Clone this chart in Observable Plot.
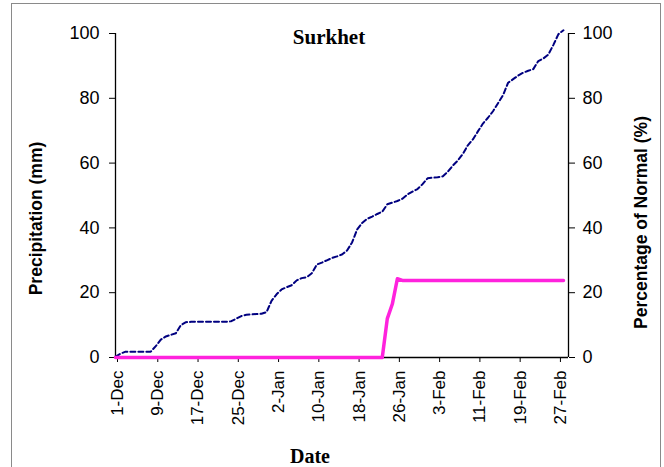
<!DOCTYPE html>
<html><head><meta charset="utf-8">
<script src="https://cdn.jsdelivr.net/npm/d3@7"></script>
<script src="https://cdn.jsdelivr.net/npm/@observablehq/plot@0.6"></script>
<style>
html,body{margin:0;padding:0;background:#fff;}
#wrap{position:relative;width:664px;height:467px;overflow:hidden;background:#fff;}
#border{position:absolute;left:11px;top:3px;width:650px;height:480px;border:1px solid #8a8a8a;box-sizing:border-box;}
</style></head><body><div id="wrap"><div id="border"></div></div>
<script>
const startDate = "2008-12-01";
const endDate = "2009-03-01";
// daily cumulative normal precipitation (mm), 1-Dec .. 28-Feb
const normalCum = [
  0.3, 1.2, 1.8, 1.8, 1.8, 1.8, 1.8, 1.8, 3.5, 5.5,
  6.5, 7.0, 7.5, 10.0, 10.9, 11.0, 11.0, 11.0, 11.0, 11.0,
  11.0, 11.0, 11.0, 11.2, 12.0, 12.8, 13.2, 13.3, 13.4, 13.5,
  14.0, 17.5, 19.5, 21.0, 21.7, 22.3, 23.8, 24.5, 24.8, 26.0,
  28.7, 29.3, 30.0, 30.7, 31.2, 31.8, 33.0, 35.5, 39.5, 41.5,
  42.8, 43.5, 44.3, 45.0, 47.3, 47.8, 48.3, 49.0, 50.3, 51.2,
  52.0, 53.5, 55.3, 55.5, 55.6, 55.9, 57.3, 59.2, 60.8, 62.8,
  65.5, 67.3, 69.8, 72.2, 74.0, 76.0, 78.5, 81.0, 84.8, 85.9,
  87.0, 87.9, 88.5, 89.0, 91.5, 92.3, 93.5, 96.5, 99.8, 101.0
];
// daily percentage of normal (%), 1-Dec .. 28-Feb
const pctNormal = [
  0,0,0,0,0,0,0,0,0,0, 0,0,0,0,0,0,0,0,0,0,
  0,0,0,0,0,0,0,0,0,0, 0,0,0,0,0,0,0,0,0,0,
  0,0,0,0,0,0,0,0,0,0, 0,0,0,0, 12.0, 16.5, 24.3, 23.8, 23.8, 23.8,
  23.8,23.8,23.8,23.8,23.8,23.8,23.8,23.8,23.8,23.8,
  23.8,23.8,23.8,23.8,23.8,23.8,23.8,23.8,23.8,23.8,
  23.8,23.8,23.8,23.8,23.8,23.8,23.8,23.8,23.8,23.8
];
const xTicks = ["2008-12-01","2008-12-09","2008-12-17","2008-12-25","2009-01-02","2009-01-10",
  "2009-01-18","2009-01-26","2009-02-03","2009-02-11","2009-02-19","2009-02-27"];
const yTicks = [0, 20, 40, 60, 80, 100];
const title = "Surkhet";
const xTitle = "Date";
const yTitleLeft = "Precipitation (mm)";
const yTitleRight = "Percentage of Normal (%)";

const day0 = new Date(startDate + "T00:00:00Z");
const dateOf = i => new Date(day0.getTime() + i * 86400000);
const normalData = normalCum.map((v, i) => ({date: dateOf(i), value: v}));
const pctData = pctNormal.map((v, i) => ({date: dateOf(i), value: v}));
const tickDates = xTicks.map(s => new Date(s + "T00:00:00Z"));
const xDomain = [day0, new Date(endDate + "T00:00:00Z")];
const fmt = d3.utcFormat("%-d-%b");
const serif = "'Liberation Serif', 'Times New Roman', serif";

const chart = Plot.plot({
  width: 664, height: 467,
  marginLeft: 115, marginRight: 96, marginTop: 33, marginBottom: 110,
  style: {fontFamily: "Arial, 'Liberation Sans', sans-serif", fontSize: "18px", background: "transparent", color: "#000", overflow: "visible"},
  x: {type: "utc", domain: xDomain},
  y: {domain: [0, 100]},
  marks: [
    Plot.axisY({anchor: "left", ticks: yTicks, tickSize: 6, tickPadding: 10, label: null, fontSize: 18, stroke: "#000"}),
    Plot.axisY({anchor: "right", ticks: yTicks, tickSize: 6, tickPadding: 8, label: null, fontSize: 18, stroke: "#000"}),
    Plot.axisX({ticks: tickDates, tickFormat: fmt, tickRotate: -90, tickSize: 5, tickPadding: 8, label: null, fontSize: 17, stroke: "#000", dx: 2}),
    Plot.ruleY([0], {stroke: "#000", strokeWidth: 1.3}),
    Plot.ruleX([xDomain[0]], {stroke: "#000", strokeWidth: 1.3}),
    Plot.ruleX([xDomain[1]], {stroke: "#000", strokeWidth: 1.3}),
    Plot.line(normalData, {x: "date", y: "value", stroke: "#000080", strokeWidth: 2, strokeDasharray: "5,3", curve: "linear"}),
    Plot.line(pctData, {x: "date", y: "value", stroke: "#ff22dd", strokeWidth: 3.5, curve: "linear"}),
    Plot.text([title], {frameAnchor: "top", textAnchor: "middle", lineAnchor: "bottom", dx: -13, dy: 10, fontFamily: serif, fontWeight: "bold", fontSize: 21}),
    Plot.text([xTitle], {frameAnchor: "bottom", textAnchor: "middle", lineAnchor: "bottom", dx: -32, dy: 105, fontFamily: serif, fontWeight: "bold", fontSize: 20}),
    Plot.text([yTitleLeft], {frameAnchor: "left", textAnchor: "middle", dx: -79, dy: 23, rotate: -90, fontWeight: "bold", fontSize: 17.5}),
    Plot.text([yTitleRight], {frameAnchor: "right", textAnchor: "middle", dx: 73, dy: 27, rotate: -90, fontWeight: "bold", fontSize: 17.5})
  ]
});
chart.style.position = "absolute";
chart.style.left = "0px";
chart.style.top = "0px";
document.getElementById("wrap").appendChild(chart);
</script>
</body></html>
